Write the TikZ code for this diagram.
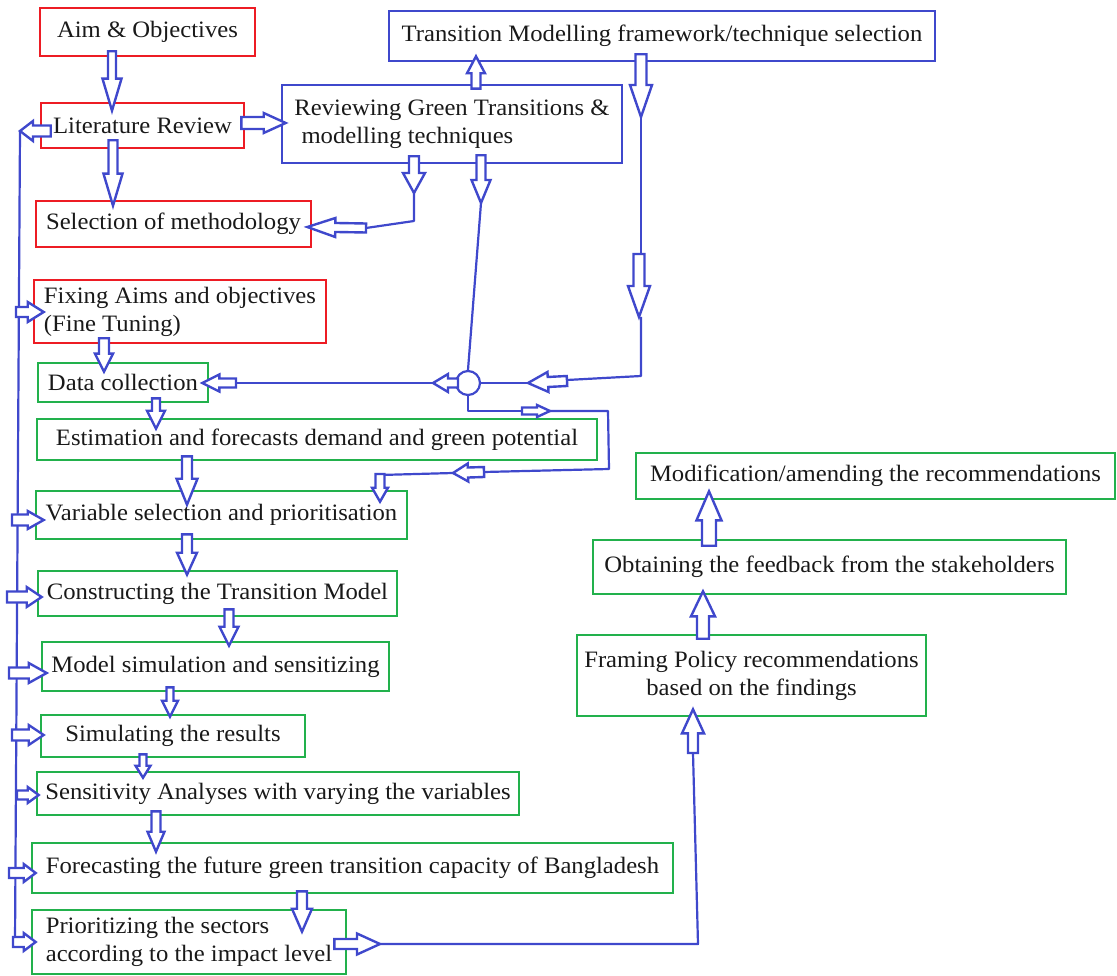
\documentclass[tikz,border=0pt]{standalone}
\usepackage{fontspec}
\setmainfont{Liberation Serif}[FakeStretch=1.05]
\usetikzlibrary{calc}

\definecolor{pred}{RGB}{237,28,36}
\definecolor{pgreen}{RGB}{34,177,76}
\definecolor{pblue}{RGB}{63,72,204}

\tikzset{
  box/.style={draw, line width=2.6pt, inner sep=0pt, text=black!90,
    font=\fontsize{23.5}{28}\selectfont},
  redbox/.style={box, draw=pred},
  greenbox/.style={box, draw=pgreen},
  bluebox/.style={box, draw=pblue},
  link/.style={draw=pblue, line width=2.2pt, line join=round},
  hollow/.style={draw=pblue, fill=white, line width=2.4pt, line join=miter},
  hub/.style={circle, draw=pblue, fill=white, line width=2.2pt, minimum size=24pt, inner sep=0pt}
}

% outlined block arrow: #1 start, #2 tip, #3 shaft half width,
% #4 head half width, #5 head length
\newcommand\blockarrow[5]{%
  \path #1 coordinate (ba-s) #2 coordinate (ba-t);
  \path ($(ba-t)!#5pt!(ba-s)$) coordinate (ba-h);
  \draw[hollow] ($(ba-s)!#3pt!90:(ba-t)$) -- ($(ba-h)!#3pt!90:(ba-t)$)
    -- ($(ba-h)!#4pt!90:(ba-t)$) -- (ba-t) -- ($(ba-h)!#4pt!-90:(ba-t)$)
    -- ($(ba-h)!#3pt!-90:(ba-t)$) -- ($(ba-s)!#3pt!-90:(ba-t)$) -- cycle;
}

\begin{document}
\begin{tikzpicture}[x=1pt,y=-1pt]
\useasboundingbox (0,0) rectangle (1117,976);

% ---- planning stage (red) ----
\node[redbox, minimum width=215pt, minimum height=48pt] (aim) at (147.5,32) {Aim \& Objectives};
\node[redbox, minimum width=203pt, minimum height=45pt] (lit) at (142.5,125.5) {Literature Review};
\node[redbox, minimum width=275pt, minimum height=46pt] (sel) at (173.5,224) {Selection of methodology};
\node[redbox, minimum width=292pt, minimum height=63pt, align=left] (fix) at (180,311.5)
  {Fixing Aims and objectives\\(Fine Tuning)};

% ---- review stage (blue) ----
\node[bluebox, minimum width=340pt, minimum height=78pt, align=left] (rev) at (452,124)
  {Reviewing Green Transitions \&\\\hspace*{0.3em}modelling techniques};
\node[bluebox, minimum width=546pt, minimum height=50pt] (tm) at (662,36)
  {Transition Modelling framework/technique selection};

% ---- modelling stage (green) ----
\node[greenbox, minimum width=170pt, minimum height=39pt] (data) at (123,382.5) {Data collection};
\node[greenbox, minimum width=560pt, minimum height=41pt] (est) at (317,439.5)
  {Estimation and forecasts demand and green potential};
\node[greenbox, minimum width=371pt, minimum height=48pt] (var) at (221.5,515)
  {Variable selection and prioritisation};
\node[greenbox, minimum width=359pt, minimum height=45pt] (con) at (217.5,593.5)
  {Constructing the Transition Model};
\node[greenbox, minimum width=347pt, minimum height=49pt] (msim) at (215.5,666.5)
  {Model simulation and sensitizing};
\node[greenbox, minimum width=264pt, minimum height=42pt] (simr) at (173,736)
  {Simulating the results};
\node[greenbox, minimum width=482pt, minimum height=43pt] (sens) at (278,793.5)
  {Sensitivity Analyses with varying the variables};
\node[greenbox, minimum width=641pt, minimum height=50pt] (fore) at (352.5,868)
  {Forecasting the future green transition capacity of Bangladesh};
\node[greenbox, minimum width=314pt, minimum height=64pt, align=left] (prio) at (189,942)
  {Prioritizing the sectors\\according to the impact level};

% ---- policy stage (green) ----
\node[greenbox, minimum width=349pt, minimum height=81pt, align=center] (fram) at (751.5,675.5)
  {Framing Policy recommendations\\based on the findings};
\node[greenbox, minimum width=473pt, minimum height=54pt] (obt) at (829.5,567)
  {Obtaining the feedback from the stakeholders};
\node[greenbox, minimum width=479pt, minimum height=46pt] (mod) at (875.5,476)
  {Modification/amending the recommendations};

% ---- junction ----
\node[hub] (hub) at (468,383) {};

% ---- connector lines ----
\coordinate (busTop) at (20,131);
\coordinate (busBot) at (15,943);
\draw[link] (busTop) -- (busBot);

\draw[link] (641,117) -- (641,254);
\draw[link] (641,317) -- (641,376) -- (567,380);
\draw[link] (528,383) -- (hub.east);
\draw[link] (hub.west) -- (458,383);
\draw[link] (433,383) -- (236,383);
\draw[link] (481,203) -- (hub.north);
\draw[link] (414,193) -- (414,221) -- (366,228);
\draw[link] (hub.south) -- (468,411) -- (522,411);
\draw[link] (550,411) -- (608,411) -- (609,469) -- (484,472);
\draw[link] (453,473) -- (380,475) -- (380,478);
\draw[link] (380,944) -- (698,944) -- (693,753);

% ---- block arrows ----
% main vertical flow
\blockarrow{($(aim.south -| 112,0)+(0,-6)$)}{($(lit.north -| 112,0)+(0,9)$)}{4}{9.5}{32}
\blockarrow{($(lit.south -| 113,0)+(0,-9)$)}{($(sel.north -| 113,0)+(0,6)$)}{4.5}{9.5}{32}
\blockarrow{($(fix.south -| 104,0)+(0,-6)$)}{($(data.north -| 104,0)+(0,10)$)}{5}{9}{18}
\blockarrow{($(data.south -| 156,0)+(0,-5)$)}{($(est.north -| 156,0)+(0,11)$)}{4}{9}{18}
\blockarrow{($(est.south -| 187,0)+(0,-5)$)}{($(var.north -| 187,0)+(0,15)$)}{5}{10.5}{26}
\blockarrow{($(var.south -| 187,0)+(0,-6)$)}{($(con.north -| 187,0)+(0,5)$)}{5}{10}{22}
\blockarrow{($(con.south -| 229,0)+(0,-8)$)}{($(msim.north -| 229,0)+(0,5)$)}{4.5}{9.5}{19}
\blockarrow{($(msim.south -| 170,0)+(0,-5)$)}{($(simr.north -| 170,0)+(0,3)$)}{3.5}{8}{16}
\blockarrow{($(simr.south -| 143,0)+(0,-4)$)}{($(sens.north -| 143,0)+(0,7)$)}{3.5}{7.5}{12}
\blockarrow{($(sens.south -| 156,0)+(0,-5)$)}{($(fore.north -| 156,0)+(0,10)$)}{4.5}{8.5}{20}
\blockarrow{($(fore.south -| 302,0)+(0,-3)$)}{($(prio.north -| 302,0)+(0,23)$)}{5}{10}{23}

% review branch
\blockarrow{($(lit.east |- 0,123)+(-4,0)$)}{($(rev.west |- 0,123)+(5,0)$)}{6}{10}{22}
\blockarrow{($(rev.north -| 476,0)+(0,5)$)}{($(tm.south -| 476,0)+(0,-6)$)}{4.5}{9}{17}
\blockarrow{($(tm.south -| 641,0)+(0,-8)$)}{(641,117)}{5.5}{11}{32}
\blockarrow{(639,254)}{(639,317)}{5.5}{11}{31}
\blockarrow{(567,381)}{(528,383)}{5}{10}{20}
\blockarrow{(458,383)}{(433,383)}{4.5}{9}{15}
\blockarrow{(236,383)}{($(data.east |- 0,383)+(-7,0)$)}{4.5}{8.5}{17}
\blockarrow{($(rev.south -| 481,0)+(0,-9)$)}{(481,203)}{4.5}{9.5}{23}
\blockarrow{($(rev.south -| 414,0)+(0,-8)$)}{(414,193)}{5}{11}{20}
\blockarrow{(366,228)}{($(sel.east |- 0,227)+(-5,0)$)}{4.5}{9.5}{28}
\blockarrow{(522,411)}{(550,411)}{3.5}{6}{13}
\blockarrow{(484,472)}{(453,473)}{5}{9}{15}
\blockarrow{(380,474)}{($(var.north -| 380,0)+(0,12)$)}{4.5}{8}{14}

% feedback bus into the modelling steps
\blockarrow{($(lit.west |- 0,131)+(11,0)$)}{(busTop)}{5.5}{10}{13}
\blockarrow{(16,312)}{($(fix.west |- 0,312)+(11,0)$)}{5}{10}{16}
\blockarrow{(12,520)}{($(var.west |- 0,520)+(9,0)$)}{5.5}{9}{16}
\blockarrow{(7,597)}{($(con.west |- 0,597)+(5,0)$)}{5.5}{10}{15}
\blockarrow{(9,673)}{($(msim.west |- 0,673)+(6,0)$)}{5.5}{10}{18}
\blockarrow{(12,735)}{($(simr.west |- 0,735)+(4,0)$)}{5.5}{10}{15}
\blockarrow{(17,795)}{($(sens.west |- 0,795)+(3,0)$)}{4.5}{8}{11}
\blockarrow{(9,873)}{($(fore.west |- 0,873)+(5,0)$)}{5}{9}{12}
\blockarrow{(13,942)}{($(prio.west |- 0,942)+(5,0)$)}{5}{9}{12}

% policy branch
\blockarrow{($(prio.east |- 0,944)+(-13,0)$)}{(380,944)}{5}{10.5}{23}
\blockarrow{(693,753)}{($(fram.south -| 693,0)+(0,-8)$)}{5}{11}{24}
\blockarrow{($(fram.north -| 703,0)+(0,5)$)}{($(obt.south -| 703,0)+(0,-4)$)}{6}{12}{25}
\blockarrow{($(obt.north -| 709,0)+(0,7)$)}{($(mod.south -| 709,0)+(0,-9)$)}{7}{12.5}{29}
\end{tikzpicture}
\end{document}
